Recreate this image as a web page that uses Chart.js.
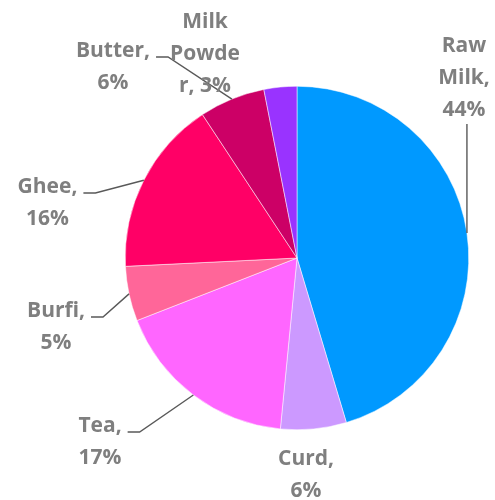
<!DOCTYPE html>
<html>
<head>
<meta charset="utf-8">
<script src="https://cdn.jsdelivr.net/npm/chart.js@4.4.1/dist/chart.umd.min.js"></script>
<style>
html,body{margin:0;padding:0;background:#fff;}
#wrap{width:495px;height:500px;}
</style>
</head>
<body>
<div id="wrap"><canvas id="c" width="495" height="500"></canvas></div>
<script>
const categories = ['Raw Milk', 'Curd', 'Tea', 'Burfi', 'Ghee', 'Butter', 'Milk Powder'];
const values = [44, 6, 17, 5, 16, 6, 3];
const sliceColors = ['#0099FF', '#CC99FF', '#FF66FF', '#FF6699', '#FF0066', '#CC0066', '#9933FF'];

// label layout: centre x, first baseline y, wrap width, leader style
const labelLayout = [
  {cx: 464, y: 52, w: 62, leader: 'down'},
  {cx: 306, y: 465, w: 80, leader: null},
  {cx: 100, y: 432, w: 60, leader: 'right'},
  {cx: 56, y: 317, w: 70, leader: 'right'},
  {cx: 47.5, y: 193, w: 75, leader: 'right'},
  {cx: 113, y: 57, w: 85, leader: 'right'},
  {cx: 205, y: 28, w: 74, leader: null}
];
const LABEL_FONT = 'bold 21px "Open Sans"';
const LINE_H = 32;

function wrap(ctx, text, maxW) {
  const words = text.split(' ');
  const lines = [];
  let cur = '';
  for (const word of words) {
    const trial = cur ? cur + ' ' + word : word;
    if (ctx.measureText(trial).width <= maxW) { cur = trial; continue; }
    if (cur) { lines.push(cur); cur = ''; }
    if (ctx.measureText(word).width <= maxW) { cur = word; continue; }
    let piece = '';
    for (const ch of word) {
      if (ctx.measureText(piece + ch).width > maxW && piece) { lines.push(piece); piece = ch; }
      else piece += ch;
    }
    cur = piece;
  }
  if (cur) lines.push(cur);
  return lines;
}

const labelPlugin = {
  id: 'pieLabels',
  afterDatasetsDraw(chart) {
    const ctx = chart.ctx;
    const meta = chart.getDatasetMeta(0);
    ctx.save();
    ctx.font = LABEL_FONT;
    meta.data.forEach((arc, i) => {
      const L = labelLayout[i];
      const text = categories[i] + ', ' + values[i] + '%';
      const lines = wrap(ctx, text, L.w);
      ctx.fillStyle = '#7f7f7f';
      ctx.textAlign = 'center';
      ctx.textBaseline = 'alphabetic';
      lines.forEach((ln, k) => ctx.fillText(ln, L.cx, L.y + k * LINE_H));
      const mid = (arc.startAngle + arc.endAngle) / 2;
      const ex = arc.x + arc.outerRadius * Math.cos(mid);
      const ey = arc.y + arc.outerRadius * Math.sin(mid);
      ctx.strokeStyle = '#595959';
      ctx.lineWidth = 1.4;
      if (L.leader === 'right') {
        const half = ctx.measureText(lines[0]).width / 2;
        const sx = L.cx + half + 6;
        const sy = L.y;
        ctx.beginPath();
        ctx.moveTo(sx, sy);
        ctx.lineTo(sx + 12, sy);
        ctx.lineTo(ex, ey);
        ctx.stroke();
      } else if (L.leader === 'down') {
        const sy = L.y + (lines.length - 1) * LINE_H + 8;
        ctx.beginPath();
        ctx.moveTo(ex, sy);
        ctx.lineTo(ex, ey);
        ctx.stroke();
      }
    });
    ctx.restore();
  }
};

new Chart(document.getElementById('c'), {
  type: 'pie',
  data: {
    labels: categories,
    datasets: [{
      data: values,
      backgroundColor: sliceColors,
      borderColor: '#ffffff',
      borderWidth: 0.5
    }]
  },
  options: {
    responsive: false,
    animation: false,
    layout: {padding: {left: 125, right: 26, top: 86, bottom: 70}},
    plugins: {legend: {display: false}, tooltip: {enabled: false}}
  },
  plugins: [labelPlugin]
});
</script>
</body>
</html>
